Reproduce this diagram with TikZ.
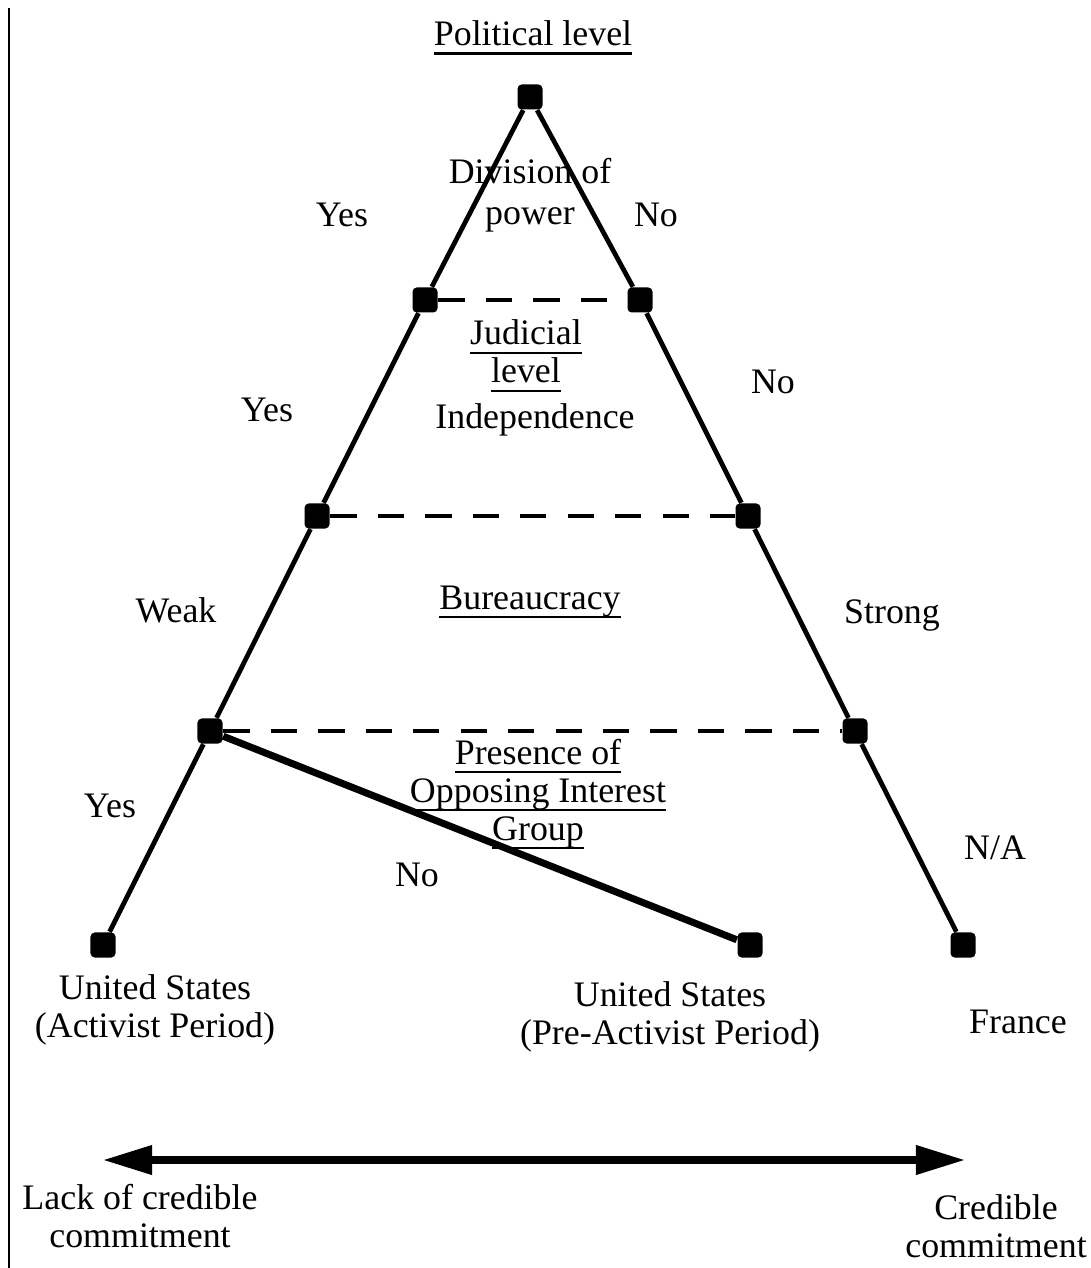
\documentclass[tikz,border=0pt]{standalone}
\usepackage{fontspec}
\setmainfont{Liberation Serif}
\usetikzlibrary{arrows.meta}
\newcommand{\ulined}[2][0.6pt]{\setbox0=\hbox{#2}\leavevmode\rlap{\rule[-2.6pt]{\wd0}{#1}}\box0}

\begin{document}
\begin{tikzpicture}[x=0.01cm,y=-0.01cm,
		stage/.style={fill=black,rectangle,rounded corners=1.2pt,minimum size=0.25cm},
		branch/.style={line width=1.35pt},
		divide/.style={line width=1.1pt,dash pattern=on 7.5pt off 6pt},
		lbl/.style={font=\fontsize{10.2}{10.8}\selectfont,align=center}]
	\tikzstyle{every node}+=[inner sep=0pt]
	\useasboundingbox (0,0) rectangle (1090,1268);
	\draw [line width=0.85pt] (9,8) -- (9,1268);
	\node [stage] (top) at (530,97) {};
	\node [stage] (jl) at (425,300) {};
	\node [stage] (jr) at (640,300) {};
	\node [stage] (bl) at (317,516) {};
	\node [stage] (br) at (748,516) {};
	\node [stage] (gl) at (210,731) {};
	\node [stage] (gr) at (855,731) {};
	\node [stage] (ea) at (103,945) {};
	\node [stage] (ep) at (750,945) {};
	\node [stage] (ef) at (963,945) {};
	\draw [branch] (top) -- (jl) -- (bl) -- (gl) -- (ea);
	\draw [branch] (top) -- (jr) -- (br) -- (gr) -- (ef);
	\draw [line width=2pt] (gl) -- (ep);
	\draw [divide] (jl) -- (jr);
	\draw [divide] (bl) -- (br);
	\draw [divide] (gl) -- (gr);
	\node [lbl] (pol) at (533,38) {\ulined[0.9pt]{Political level}};
	\node [lbl] (divp) at (530,195) {Division of\\[1pt]power};
	\node [lbl] (yes1) at (342,215) {Yes};
	\node [lbl] (no1) at (656,215) {No};
	\node [lbl] (jud) at (526,356) {\ulined{Judicial}\\\ulined{level}};
	\node [lbl] (ind) at (535,420) {Independence};
	\node [lbl] (yes2) at (267,410) {Yes};
	\node [lbl] (no2) at (773,382) {No};
	\node [lbl] (bur) at (530,602) {\ulined{Bureaucracy}};
	\node [lbl] (weak) at (176,610) {Weak};
	\node [lbl] (strong) at (892,615) {Strong};
	\node [lbl] (opp) at (538,794) {\ulined{Presence of}\\\ulined{Opposing Interest}\\\ulined{Group}};
	\node [lbl] (yes3) at (110,806) {Yes};
	\node [lbl] (no3) at (417,875) {No};
	\node [lbl] (na) at (995,848) {N/A};
	\node [lbl] (usa) at (155,1010) {United States\\(Activist Period)};
	\node [lbl] (usp) at (670,1017) {United States\\(Pre-Activist Period)};
	\node [lbl] (fra) at (1018,1022) {France};
	\coordinate (lackend) at (103,1160);
	\coordinate (credend) at (965,1160);
	\draw [line width=2pt,{Triangle[length=14pt,width=8pt]}-{Triangle[length=14pt,width=8pt]}] (lackend) -- (credend);
	\node [lbl] (lack) at (140,1216) {Lack of credible\\commitment};
	\node [lbl] (cred) at (996,1226) {Credible\\commitment};
\end{tikzpicture}
\end{document}
